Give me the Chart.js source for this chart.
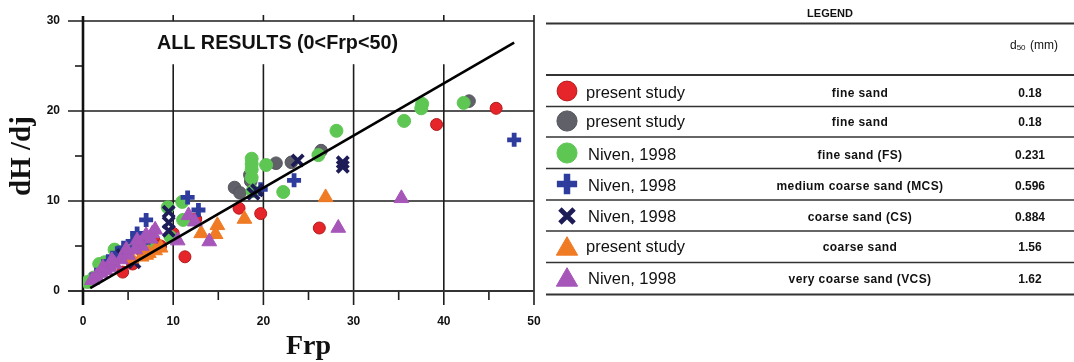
<!DOCTYPE html>
<html><head><meta charset="utf-8">
<script src="https://cdn.jsdelivr.net/npm/chart.js"></script>
<style>html,body{margin:0;padding:0;background:#fff;overflow:hidden}#wrap{position:relative;width:1074px;height:362px}</style>
</head><body><div id="wrap"><canvas id="c" width="1074" height="362"></canvas></div>
<script>
// ---- data (Frp, dH/dj) ----
const presentFineRed = [
  {x:45.8,y:20.3},{x:39.2,y:18.5},{x:26.2,y:7.0},{x:19.7,y:8.6},{x:17.3,y:9.2},
  {x:11.3,y:3.8},{x:4.4,y:2.1},{x:6.6,y:4.3},{x:8.1,y:5.3},{x:10.0,y:6.4},{x:12.5,y:8.0},
  {x:5.5,y:3.0},{x:8.6,y:5.0}
];
const presentFineGray = [
  {x:42.8,y:21.1},{x:26.4,y:15.6},{x:23.1,y:14.3},{x:21.4,y:14.2},{x:18.6,y:12.2},
  {x:18.5,y:12.9},{x:16.8,y:11.5},{x:17.4,y:10.9}
];
const nivenFS = [
  {x:42.2,y:20.9},{x:37.5,y:20.3},{x:37.6,y:20.8},{x:35.6,y:18.9},{x:28.1,y:17.8},
  {x:26.1,y:15.1},{x:18.7,y:14.7},{x:18.7,y:14.1},{x:18.7,y:13.5},{x:18.7,y:12.6},
  {x:20.3,y:14.0},{x:22.2,y:11.0},{x:18.8,y:11.1},{x:11.0,y:9.9},{x:9.4,y:9.3},
  {x:11.1,y:7.9},{x:9.7,y:6.0},{x:7.3,y:5.4},{x:5.8,y:5.0},{x:4.0,y:4.3},
  {x:3.5,y:4.6},{x:2.4,y:3.2},{x:1.8,y:3.0},{x:0.5,y:1.0},{x:5.0,y:4.6},
  {x:2.0,y:2.5},{x:1.2,y:1.5}
];
const nivenMCS = [
  {x:47.8,y:16.8},{x:23.4,y:12.3},{x:19.7,y:11.3},{x:11.6,y:10.4},{x:12.8,y:9.0},
  {x:7.0,y:7.9},{x:6.7,y:5.4},{x:6.0,y:6.4},{x:3.8,y:4.2},{x:2.8,y:3.3},{x:1.5,y:1.8},
  {x:5.5,y:5.5},{x:4.5,y:4.8}
];
const nivenCS = [
  {x:28.8,y:13.8},{x:28.8,y:14.3},{x:23.8,y:14.5},{x:19.3,y:11.2},{x:18.9,y:10.8},
  {x:9.5,y:8.8},{x:9.5,y:7.6},{x:9.5,y:6.7},{x:4.4,y:4.0},{x:5.7,y:3.2}
];
const presentCoarse = [
  {x:26.9,y:10.4},{x:17.9,y:8.0},{x:14.9,y:7.3},{x:14.7,y:6.3},{x:13.1,y:6.4},
  {x:8.6,y:4.8},{x:5.4,y:3.6},{x:7.3,y:4.2},{x:6.5,y:3.8},{x:7.0,y:4.0},{x:8.0,y:4.5}
];
const nivenVCS = [
  {x:35.3,y:10.3},{x:28.3,y:7.0},{x:14.0,y:5.5},{x:10.5,y:5.6},{x:11.7,y:8.4},
  {x:12.4,y:7.7},{x:7.7,y:6.4},{x:7.5,y:5.8},{x:6.5,y:5.0},{x:5.8,y:4.6},
  {x:5.0,y:4.0},{x:4.2,y:3.5},{x:3.5,y:3.0},{x:3.0,y:2.6},{x:2.5,y:2.3},
  {x:2.0,y:2.0},{x:1.5,y:1.6},{x:1.0,y:1.2},{x:6.0,y:5.6},{x:4.8,y:4.6},
  {x:8.0,y:6.8},{x:7.0,y:6.2},{x:3.2,y:3.4},{x:2.2,y:2.6}
];
const fitLine = [{x:0.8,y:0.33},{x:47.8,y:27.6}];

const legendSource = ['present study','present study','Niven, 1998','Niven, 1998','Niven, 1998','present study','Niven, 1998'];
const legendSoil = ['fine sand','fine sand','fine sand (FS)','medium coarse sand (MCS)','coarse sand (CS)','coarse sand','very coarse sand (VCS)'];
const legendD50 = ['0.18','0.18','0.231','0.596','0.884','1.56','1.62'];
const chartTitle = 'ALL RESULTS (0<Frp<50)';

// ---- styles ----
function sc(label, data, style, fill, border, radius, bw, order){
  return {type:'scatter', label, data, order, showLine:false,
    pointStyle:style, pointRadius:radius, pointHoverRadius:radius,
    pointBackgroundColor:fill, pointBorderColor:border, pointBorderWidth:bw,
    pointHoverBorderWidth:bw};
}
const series = [
  sc('present study – fine sand', presentFineRed, 'circle', '#e5252a', '#b51a1c', 6, 1, 7),
  sc('present study – fine sand (gray)', presentFineGray, 'circle', '#5f6068', '#55565d', 6.3, 1, 6),
  sc('Niven, 1998 – FS', nivenFS, 'circle', '#5ec653', '#5ec653', 6.5, 1, 5),
  sc('Niven, 1998 – MCS', nivenMCS, 'cross', '#2e3c9d', '#2e3c9d', 7, 4.8, 4),
  sc('Niven, 1998 – CS', nivenCS, 'crossRot', '#1d1c57', '#1d1c57', 8, 3.8, 3),
  sc('present study – coarse sand', presentCoarse, 'triangle', '#f07b25', '#f07b25', 8.5, 1, 2),
  sc('Niven, 1998 – VCS', nivenVCS, 'triangle', '#a655b8', '#a655b8', 8.5, 1, 1)
];
const lineDs = {type:'line', label:'fit', data:fitLine, order:0, borderColor:'#000', borderWidth:2.6,
  pointRadius:0, pointHoverRadius:0, fill:false, tension:0};

function seg(ctx,x1,y1,x2,y2){ctx.beginPath();ctx.moveTo(x1,y1);ctx.lineTo(x2,y2);ctx.stroke();}

const framePlugin = {
  id:'frame',
  beforeDatasetsDraw(chart){
    const {ctx, chartArea:a, scales:{x,y}} = chart;
    ctx.save();
    ctx.strokeStyle = '#1c1c1c';
    ctx.lineCap = 'butt';
    ctx.lineWidth = 1.6;
    [10,20,30].forEach(v=>{const py=y.getPixelForValue(v); seg(ctx,a.left-15,py,a.right,py);});
    [10,20,30,40].forEach(v=>{
      const px=x.getPixelForValue(v);
      seg(ctx,px,y.getPixelForValue(25.2),px,a.bottom);
      seg(ctx,px,a.top-6,px,a.top);
      seg(ctx,px,a.bottom,px,a.bottom+14);
    });
    [5,15,25,35,45].forEach(v=>{const px=x.getPixelForValue(v); seg(ctx,px,a.bottom,px,a.bottom+9);});
    seg(ctx,a.right,a.top-6,a.right,a.bottom+14);
    [5,15,25].forEach(v=>{const py=y.getPixelForValue(v); seg(ctx,a.left-8,py,a.left,py);});
    ctx.strokeStyle = '#333';
    ctx.lineWidth = 1.8;
    seg(ctx,a.left-15,a.bottom,a.right,a.bottom);
    ctx.strokeStyle = '#111';
    ctx.lineWidth = 2.6;
    seg(ctx,a.left,a.top-5,a.left,a.bottom+14);
    // title text
    ctx.fillStyle = '#111';
    ctx.font = 'bold 21px "Liberation Sans", Arial, sans-serif';
    ctx.textAlign = 'center';
    ctx.textBaseline = 'middle';
    ctx.fillText(chartTitle, (a.left+a.right)/2 - 31, 43, 241);
    ctx.restore();
  },
  afterDraw(chart){
    const {ctx} = chart;
    const H = Chart.helpers;
    ctx.save();
    ctx.strokeStyle = '#333';
    const lines = [23.5, 75, 106.5, 137, 168.5, 200, 231, 262.5, 294.5];
    lines.forEach((ly,i)=>{ctx.lineWidth = (i<2||i===8)?2:1.6; seg(ctx,546,ly,1074,ly);});
    ctx.fillStyle = '#111';
    ctx.textBaseline = 'middle';
    ctx.textAlign = 'center';
    ctx.font = 'bold 11px "Liberation Sans", Arial, sans-serif';
    ctx.fillText('LEGEND', 830, 14);
    // d50 (mm)
    ctx.textAlign = 'left';
    ctx.font = '12px "Liberation Sans", Arial, sans-serif';
    let hx = 1010;
    ctx.fillText('d', hx, 46); hx += ctx.measureText('d').width;
    ctx.font = '8px "Liberation Sans", Arial, sans-serif';
    ctx.fillText('50', hx, 47.5); hx += ctx.measureText('50').width + 1;
    ctx.font = '12px "Liberation Sans", Arial, sans-serif';
    ctx.fillText(' (mm)', hx, 46);
    const markY = [91, 121, 153, 184, 216, 248, 279];
    const textY = [93, 122, 155, 186, 217, 247, 279];
    const legendScale = [1.65, 1.6, 1.55, 1.45, 1.25, 1.45, 1.45];
    series.forEach((ds,i)=>{
      const r = ds.pointRadius*legendScale[i];
      ctx.fillStyle = ds.pointBackgroundColor;
      ctx.strokeStyle = ds.pointBorderColor;
      const bw = ds.pointStyle==='cross' ? 6.5 : ds.pointStyle==='crossRot' ? 4.8 : ds.pointBorderWidth;
      ctx.lineWidth = bw;
      H.drawPoint(ctx, {pointStyle: ds.pointStyle, radius: r, borderWidth: bw, rotation: 0}, 567, markY[i] + (ds.pointStyle==='triangle'?1:0));
      ctx.fillStyle = '#111';
      ctx.textAlign = 'left';
      ctx.font = '500 16.5px "Liberation Sans", Arial, sans-serif';
      ctx.fillText(legendSource[i], legendSource[i].startsWith('Niven') ? 588 : 586, textY[i]);
      ctx.textAlign = 'center';
      ctx.font = 'bold 12px "Liberation Sans", Arial, sans-serif';
      try { ctx.letterSpacing = '0.4px'; } catch(e) {}
      ctx.fillText(legendSoil[i], 860, textY[i]+1);
      try { ctx.letterSpacing = '0px'; } catch(e) {}
      ctx.fillText(legendD50[i], 1030, textY[i]+1);
    });
    ctx.restore();
  }
};

new Chart(document.getElementById('c'), {
  data: { datasets: [...series, lineDs] },
  options: {
    responsive:false, animation:false, devicePixelRatio:1,
    layout:{padding:{left:0, right:540, top:21, bottom:0}},
    plugins:{legend:{display:false}, tooltip:{enabled:false}, title:{display:false}},
    scales:{
      x:{type:'linear', min:0, max:50,
        afterFit(s){ s.height = 71; s.paddingLeft = 0; s.paddingRight = 0; },
        grid:{display:false, drawTicks:false}, border:{display:false},
        ticks:{stepSize:5, autoSkip:false, maxRotation:0, padding:23, color:'#111',
          font:{family:'"Liberation Sans", Arial, sans-serif', size:12, weight:'bold'},
          callback:(v)=> v%10===0 ? String(v) : ''},
        title:{display:true, text:'Frp', color:'#111', padding:{top:0,bottom:0},
          font:{family:'"Liberation Serif", "Times New Roman", serif', size:28, weight:'bold', lineHeight:1.1}}
      },
      y:{type:'linear', min:0, max:30,
        afterFit(s){ s.width = 83; s.paddingTop = 0; s.paddingBottom = 0; },
        grid:{display:false, drawTicks:false}, border:{display:false},
        ticks:{stepSize:5, autoSkip:false, padding:23, color:'#111',
          font:{family:'"Liberation Sans", Arial, sans-serif', size:12, weight:'bold'},
          callback:(v)=> v%10===0 ? String(v) : ''},
        title:{display:true, text:'dH /dj', color:'#111', padding:{top:5,bottom:0},
          font:{family:'"Liberation Serif", "Times New Roman", serif', size:29, weight:'bold', lineHeight:1.2}}
      }
    }
  },
  plugins:[framePlugin]
});
</script></body></html>
